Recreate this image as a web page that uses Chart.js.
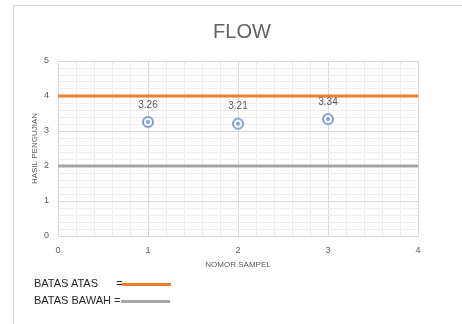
<!DOCTYPE html>
<html lang="id">
<head>
    <meta charset="UTF-8">
    <title>FLOW</title>
    <script src="https://cdn.jsdelivr.net/npm/chart.js"></script>
    <style>
        body {
            margin: 0;
            width: 462px;
            height: 324px;
            overflow: hidden;
            background: #fff;
            font-family: 'Liberation Sans', Arial, sans-serif;
            position: relative;
        }
        .card {
            position: absolute;
            left: 13px;
            top: 5px;
            width: 470px;
            height: 340px;
            border: 1px solid #d9d9d9;
        }
        .chart-box {
            position: absolute;
            left: 0;
            top: 0;
            width: 462px;
            height: 324px;
        }
        .chart-title {
            position: absolute;
            left: 142px;
            width: 200px;
            top: 20px;
            text-align: center;
            font-size: 20px;
            color: #626262;
        }
        .legend {
            position: absolute;
            left: 34px;
            font-size: 11px;
            color: #262626;
            white-space: pre;
        }
        .legend .swatch {
            position: absolute;
            height: 3px;
            width: 49px;
        }
    </style>
</head>
<body>
    <div class="card"></div>
    <div class="chart-box"><canvas id="flowChart" width="462" height="324"></canvas></div>
    <div class="chart-title">FLOW</div>

    <div class="legend" style="top:277px">BATAS ATAS      =<span class="swatch" style="left:88px;top:6px;background:#ed7d31"></span></div>
    <div class="legend" style="top:294px">BATAS BAWAH =<span class="swatch" style="left:87px;top:6px;background:#a5a5a5"></span></div>

    <script>
        // data hasil pengujian
        const sampleNo = [1, 2, 3];
        const flowValues = [3.26, 3.21, 3.34];
        const upperLimit = 4;
        const lowerLimit = 2;
        const xRange = [0, 4];
        const yRange = [0, 5];

        const points = sampleNo.map((n, i) => ({ x: n, y: flowValues[i] }));

        // penanda titik: lingkaran ganda
        const marker = document.createElement('canvas');
        marker.width = 14;
        marker.height = 14;
        const mctx = marker.getContext('2d');
        mctx.fillStyle = '#ffffff';
        mctx.strokeStyle = '#7f9dd0';
        mctx.lineWidth = 2;
        mctx.beginPath();
        mctx.arc(7, 7, 5, 0, Math.PI * 2);
        mctx.fill();
        mctx.stroke();
        mctx.fillStyle = '#7f9dd0';
        mctx.beginPath();
        mctx.arc(7, 7, 2, 0, Math.PI * 2);
        mctx.fill();

        const isWhole = v => Math.abs(v - Math.round(v)) < 1e-6;

        const valueLabels = {
            id: 'valueLabels',
            afterDatasetsDraw(chart) {
                const meta = chart.getDatasetMeta(2);
                const c = chart.ctx;
                c.save();
                c.font = '10px "Liberation Sans", Arial, sans-serif';
                c.fillStyle = '#595959';
                c.textAlign = 'center';
                c.textBaseline = 'bottom';
                meta.data.forEach((pt, i) => {
                    c.fillText(flowValues[i].toFixed(2), pt.x, pt.y - 12);
                });
                c.restore();
            }
        };

        const ctx = document.getElementById('flowChart').getContext('2d');
        new Chart(ctx, {
            type: 'scatter',
            data: {
                datasets: [
                    {
                        type: 'line',
                        label: 'BATAS ATAS',
                        data: [{ x: xRange[0], y: upperLimit }, { x: xRange[1], y: upperLimit }],
                        borderColor: '#ed7d31',
                        borderWidth: 3,
                        pointRadius: 0
                    },
                    {
                        type: 'line',
                        label: 'BATAS BAWAH',
                        data: [{ x: xRange[0], y: lowerLimit }, { x: xRange[1], y: lowerLimit }],
                        borderColor: '#a5a5a5',
                        borderWidth: 3,
                        pointRadius: 0
                    },
                    {
                        label: 'FLOW',
                        data: points,
                        pointStyle: marker,
                        pointRadius: 7
                    }
                ]
            },
            options: {
                responsive: false,
                animation: false,
                layout: { padding: { left: 26, right: 44, top: 61, bottom: 50 } },
                plugins: {
                    legend: { display: false },
                    tooltip: { enabled: false },
                    title: { display: false }
                },
                scales: {
                    x: {
                        type: 'linear',
                        min: xRange[0],
                        max: xRange[1],
                        afterFit(scale) { scale.height = 38; },
                        grid: {
                            color: c => isWhole(c.tick.value) ? '#d9d9d9' : '#ededed',
                            drawTicks: false
                        },
                        border: { color: '#d9d9d9' },
                        ticks: {
                            stepSize: 0.2,
                            autoSkip: false,
                            maxRotation: 0,
                            padding: 9,
                            color: '#595959',
                            font: { size: 9 },
                            callback: v => isWhole(v) ? String(Math.round(v)) : ''
                        },
                        title: {
                            display: true,
                            text: 'NOMOR SAMPEL',
                            color: '#595959',
                            font: { size: 8 },
                            padding: { top: 6 }
                        }
                    },
                    y: {
                        min: yRange[0],
                        max: yRange[1],
                        afterFit(scale) { scale.width = 32; },
                        grid: {
                            color: c => isWhole(c.tick.value) ? '#d9d9d9' : '#ededed',
                            drawTicks: false
                        },
                        border: { color: '#d9d9d9' },
                        ticks: {
                            stepSize: 0.2,
                            autoSkip: false,
                            padding: 9,
                            color: '#595959',
                            font: { size: 9 },
                            callback: v => isWhole(v) ? String(Math.round(v)) : ''
                        },
                        title: {
                            display: true,
                            text: 'HASIL PENGUJIAN',
                            color: '#595959',
                            font: { size: 8 },
                            padding: { bottom: 2 }
                        }
                    }
                }
            },
            plugins: [valueLabels]
        });
    </script>
</body>
</html>
